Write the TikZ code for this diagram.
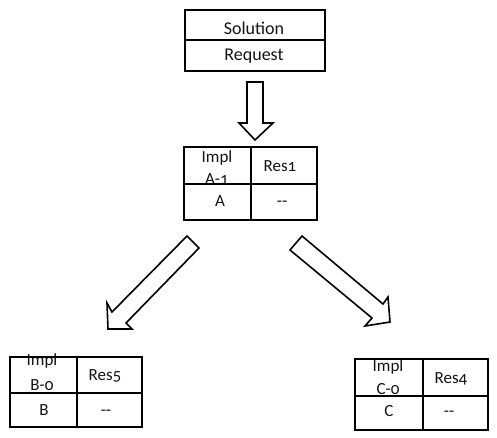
\documentclass[tikz,border=0pt]{standalone}
\usepackage{fontspec}
\setmainfont{Carlito}[Numbers=OldStyle]
\begin{document}
\begin{tikzpicture}[x=1pt,y=-1pt,
  cellbox/.style={draw=black, line width=1.9pt, inner sep=0pt, anchor=north west},
  txt/.style={inner sep=0pt, anchor=base, font=\fontsize{17}{20}\selectfont, text=black!92},
  toptxt/.style={inner sep=0pt, anchor=base, font=\fontsize{18}{21}\selectfont, text=black!92},
  blockarrow/.style={draw=black, line width=1.6pt, line join=miter, fill=white}]
\useasboundingbox (0,0) rectangle (497,437);
% --- top box ---
\node[toptxt] (sol) at (254,34) {Solution};
\node[toptxt] (req) at (254,60) {Request};
\node[cellbox, minimum width=140pt, minimum height=30pt] (t1) at (184,9) {};
\node[cellbox, minimum width=140pt, minimum height=31pt] (t2) at (184,39) {};
% --- middle table ---
\node[txt] (ma1) at (217,162) {Impl};
\node[txt] (ma2) at (217,184) {A-1};
\node[txt] (mres) at (280,171) {Res1};
\node[txt] (ma) at (220,206) {A};
\node[txt] (mdash) at (282,206) {-{}-};
\node[cellbox, minimum width=67pt, minimum height=37pt] (m11) at (183,146) {};
\node[cellbox, minimum width=66pt, minimum height=37pt] (m12) at (250,146) {};
\node[cellbox, minimum width=67pt, minimum height=36pt] (m21) at (183,183) {};
\node[cellbox, minimum width=66pt, minimum height=36pt] (m22) at (250,183) {};
% --- left table ---
\node[txt] (la1) at (42,365) {Impl};
\node[txt] (la2) at (42,390) {B-0};
\node[txt] (lres) at (105,380) {Res5};
\node[txt] (lb) at (44,415) {B};
\node[txt] (ldash) at (106,415) {-{}-};
\node[cellbox, minimum width=67pt, minimum height=36pt] (l11) at (9,356) {};
\node[cellbox, minimum width=65pt, minimum height=36pt] (l12) at (76,356) {};
\node[cellbox, minimum width=67pt, minimum height=34pt] (l21) at (9,392) {};
\node[cellbox, minimum width=65pt, minimum height=34pt] (l22) at (76,392) {};
% --- right table ---
\node[txt] (ra1) at (388,371) {Impl};
\node[txt] (ra2) at (388,394) {C-0};
\node[txt] (rres) at (451,383) {Res4};
\node[txt] (rc) at (389,416) {C};
\node[txt] (rdash) at (449,416) {-{}-};
\node[cellbox, minimum width=68pt, minimum height=37pt] (r11) at (354,358) {};
\node[cellbox, minimum width=65pt, minimum height=37pt] (r12) at (422,358) {};
\node[cellbox, minimum width=68pt, minimum height=34pt] (r21) at (354,395) {};
\node[cellbox, minimum width=65pt, minimum height=34pt] (r22) at (422,395) {};
% --- block arrows ---
\draw[blockarrow] (247,82) -- (263,82) -- (263,123) -- (273,123) -- (255,140)
  -- (239,123) -- (247,123) -- cycle;
\draw[blockarrow] (187,236) -- (112,312) -- (107,303) -- (108,329) -- (132,329)
  -- (126,323) -- (199,248) -- cycle;
\draw[blockarrow] (302,236) -- (383,304) -- (388,297) -- (390,322) -- (365,326)
  -- (372,318) -- (290,250) -- cycle;
\end{tikzpicture}
\end{document}
